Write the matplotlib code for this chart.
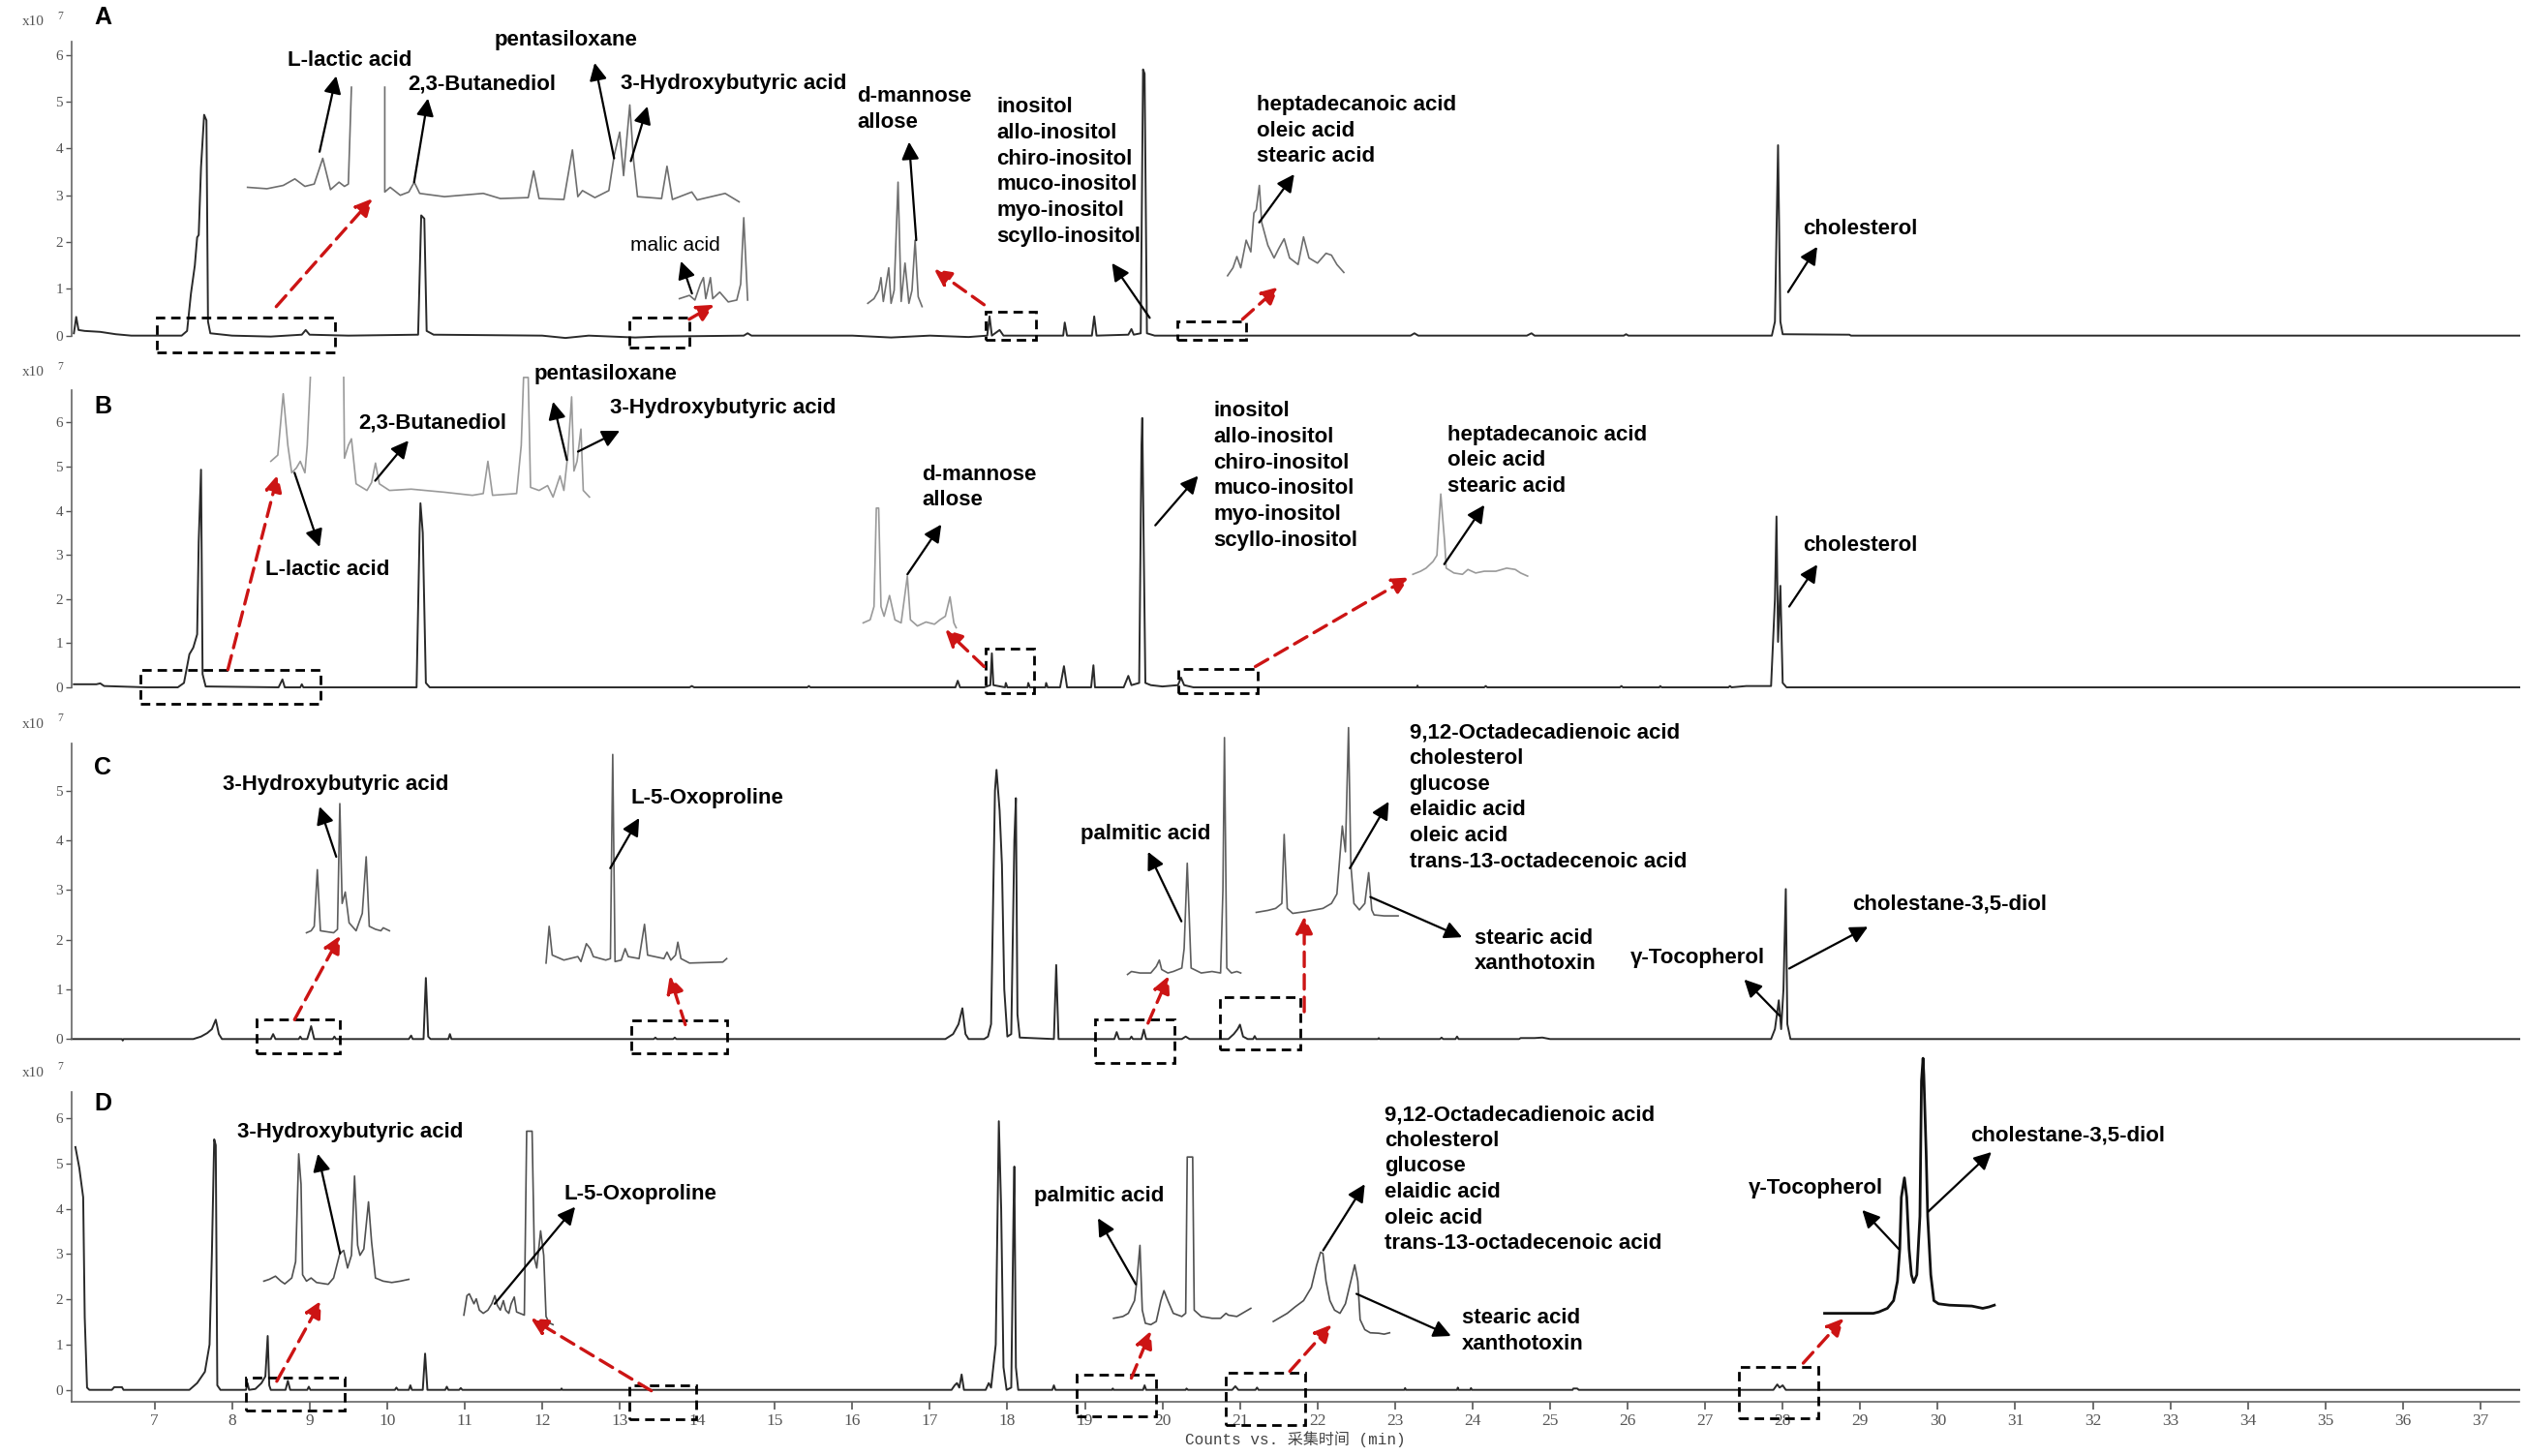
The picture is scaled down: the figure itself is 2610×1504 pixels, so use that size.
import matplotlib.pyplot as plt
from matplotlib.patches import Rectangle

plt.rcParams['font.family'] = ['Liberation Sans', 'DejaVu Sans']

# ── Main TIC traces: (retention time [min], counts [x10^7]) ──
A_main = [(5.96, 0.05), (5.99, 0.40), (6.02, 0.12), (6.10, 0.10), (6.30, 0.08), (6.50, 0.03), (6.70, 0.0),
          (7.35, 0.0), (7.42, 0.10), (7.47, 0.90), (7.52, 1.50), (7.55, 2.10), (7.57, 2.15), (7.60, 3.60),
          (7.64, 4.72), (7.67, 4.60), (7.69, 0.30), (7.72, 0.05), (8.00, 0.0), (8.50, -0.02), (8.90, 0.02),
          (8.95, 0.12), (9.00, 0.02), (9.50, 0.0), (10.40, 0.02), (10.44, 2.57), (10.48, 2.50), (10.51, 0.10),
          (10.60, 0.02), (12.00, 0.0), (12.30, -0.05), (12.60, 0.0), (13.20, -0.04), (13.50, -0.02),
          (14.60, 0.0), (14.65, 0.05), (14.70, 0.0), (16.00, 0.0), (16.50, -0.04), (17.00, 0.0),
          (17.50, -0.03), (17.74, 0.0), (17.77, 0.41), (17.80, 0.0), (17.90, 0.12), (17.95, 0.0),
          (18.72, 0.0), (18.74, 0.28), (18.77, 0.0), (19.09, 0.0), (19.12, 0.41), (19.15, 0.0),
          (19.56, 0.02), (19.60, 0.14), (19.63, 0.02), (19.72, 0.05), (19.75, 5.69), (19.77, 5.60),
          (19.80, 0.05), (19.90, 0.0), (23.20, 0.0), (23.25, 0.05), (23.30, 0.0), (24.70, 0.0),
          (24.76, 0.05), (24.80, 0.0), (25.95, 0.0), (25.98, 0.03), (26.01, 0.0), (27.86, 0.0),
          (27.90, 0.30), (27.94, 4.07), (27.97, 0.30), (28.00, 0.03), (28.86, 0.02), (28.88, 0.0), (37.50, 0.0)]

B_main = [(5.96, 0.07), (6.25, 0.07), (6.30, 0.09), (6.35, 0.03), (6.90, 0.0), (7.30, 0.0), (7.38, 0.10),
          (7.45, 0.75), (7.50, 0.90), (7.55, 1.20), (7.57, 3.30), (7.60, 4.93), (7.62, 0.30), (7.66, 0.02),
          (8.60, 0.0), (8.65, 0.18), (8.68, 0.0), (8.88, 0.0), (8.90, 0.07), (8.92, 0.0), (10.38, 0.0),
          (10.42, 3.60), (10.43, 4.17), (10.46, 3.50), (10.50, 0.10), (10.55, 0.0), (13.90, 0.0),
          (13.93, 0.03), (13.96, 0.0), (15.42, 0.0), (15.44, 0.03), (15.46, 0.0), (17.33, 0.0),
          (17.36, 0.15), (17.39, 0.0), (17.70, 0.0), (17.78, 0.05), (17.80, 0.77), (17.82, 0.05),
          (17.97, 0.0), (17.98, 0.10), (18.00, 0.0), (18.26, 0.0), (18.27, 0.10), (18.29, 0.0),
          (18.49, 0.0), (18.50, 0.10), (18.52, 0.0), (18.68, 0.0), (18.73, 0.48), (18.77, 0.0),
          (19.08, 0.0), (19.11, 0.50), (19.13, 0.0), (19.50, 0.0), (19.56, 0.26), (19.60, 0.05),
          (19.70, 0.10), (19.73, 5.50), (19.74, 6.10), (19.76, 3.00), (19.78, 0.10), (19.85, 0.05),
          (20.00, 0.02), (20.20, 0.05), (20.24, 0.22), (20.28, 0.05), (20.40, 0.0), (23.28, 0.0),
          (23.29, 0.04), (23.30, 0.0), (24.15, 0.0), (24.17, 0.03), (24.19, 0.0), (25.90, 0.0),
          (25.92, 0.03), (25.94, 0.0), (26.41, 0.0), (26.42, 0.03), (26.44, 0.0), (27.30, 0.0),
          (27.32, 0.03), (27.34, 0.0), (27.53, 0.03), (27.85, 0.03), (27.90, 2.00), (27.92, 3.87),
          (27.94, 1.03), (27.97, 2.30), (28.00, 0.10), (28.05, 0.0), (37.50, 0.0)]

C_main = [(5.93, 0.0), (6.58, 0.0), (6.59, -0.03), (6.60, 0.0), (7.50, 0.0), (7.60, 0.05), (7.68, 0.12),
          (7.74, 0.20), (7.79, 0.39), (7.83, 0.10), (7.87, 0.0), (8.50, 0.0), (8.53, 0.10), (8.56, 0.0),
          (8.86, 0.0), (8.88, 0.05), (8.90, 0.0), (8.97, 0.0), (9.02, 0.26), (9.06, 0.0), (9.30, 0.0),
          (9.32, 0.05), (9.34, 0.0), (10.28, 0.0), (10.31, 0.07), (10.33, 0.0), (10.47, 0.0),
          (10.50, 1.23), (10.53, 0.05), (10.56, 0.0), (10.79, 0.0), (10.81, 0.10), (10.83, 0.0),
          (13.44, 0.0), (13.46, 0.03), (13.48, 0.0), (13.69, 0.0), (13.71, 0.03), (13.73, 0.0),
          (17.20, 0.0), (17.30, 0.10), (17.37, 0.30), (17.42, 0.62), (17.46, 0.10), (17.50, 0.0),
          (17.70, 0.0), (17.75, 0.05), (17.79, 0.30), (17.84, 5.00), (17.86, 5.42), (17.90, 4.60),
          (17.93, 3.51), (17.96, 1.00), (18.00, 0.05), (18.05, 0.10), (18.09, 4.00), (18.11, 4.85),
          (18.13, 0.50), (18.16, 0.03), (18.60, 0.0), (18.63, 1.49), (18.66, 0.0), (19.38, 0.0),
          (19.41, 0.14), (19.44, 0.0), (19.58, 0.0), (19.60, 0.05), (19.62, 0.0), (19.73, 0.0),
          (19.76, 0.19), (19.79, 0.0), (20.25, 0.0), (20.30, 0.05), (20.35, 0.0), (20.85, 0.0),
          (20.92, 0.10), (20.97, 0.20), (21.00, 0.29), (21.04, 0.05), (21.10, 0.0), (21.17, 0.0),
          (21.19, 0.06), (21.21, 0.0), (22.78, 0.0), (22.79, 0.02), (22.80, 0.0), (23.58, 0.0),
          (23.60, 0.03), (23.62, 0.0), (23.78, 0.0), (23.80, 0.05), (23.82, 0.0), (24.60, 0.0),
          (24.62, 0.02), (24.80, 0.02), (24.90, 0.03), (25.00, 0.0), (27.85, 0.0), (27.90, 0.20),
          (27.95, 0.78), (27.98, 0.20), (28.01, 1.00), (28.04, 3.02), (28.06, 0.30), (28.10, 0.0), (37.50, 0.0)]

D_main = [(5.98, 5.36), (6.03, 4.90), (6.08, 4.25), (6.10, 1.60), (6.13, 0.05), (6.16, 0.0), (6.45, 0.0),
          (6.48, 0.06), (6.58, 0.06), (6.60, 0.0), (7.45, 0.0), (7.55, 0.15), (7.65, 0.40), (7.71, 1.00),
          (7.74, 3.00), (7.77, 5.53), (7.79, 5.40), (7.81, 0.10), (7.85, 0.0), (8.18, 0.0), (8.20, 0.15),
          (8.22, 0.0), (8.30, 0.02), (8.38, 0.15), (8.43, 0.30), (8.46, 1.19), (8.48, 0.10), (8.50, 0.0),
          (8.69, 0.0), (8.72, 0.20), (8.75, 0.0), (8.97, 0.0), (8.99, 0.07), (9.01, 0.0), (10.10, 0.0),
          (10.12, 0.05), (10.14, 0.0), (10.28, 0.0), (10.30, 0.10), (10.32, 0.0), (10.46, 0.0),
          (10.49, 0.80), (10.52, 0.0), (10.75, 0.0), (10.77, 0.07), (10.79, 0.0), (10.93, 0.0),
          (10.95, 0.04), (10.97, 0.0), (12.24, 0.0), (12.25, 0.03), (12.26, 0.0), (17.28, 0.0),
          (17.32, 0.10), (17.35, 0.15), (17.38, 0.05), (17.41, 0.34), (17.44, 0.0), (17.72, 0.0),
          (17.76, 0.15), (17.79, 0.05), (17.85, 1.00), (17.89, 5.93), (17.92, 4.00), (17.95, 0.50),
          (17.99, 0.0), (18.05, 0.05), (18.08, 4.00), (18.09, 4.93), (18.11, 0.50), (18.14, 0.0),
          (18.58, 0.0), (18.60, 0.10), (18.62, 0.0), (19.35, 0.0), (19.36, 0.03), (19.37, 0.0),
          (19.75, 0.0), (19.77, 0.10), (19.79, 0.0), (20.30, 0.0), (20.31, 0.03), (20.33, 0.0),
          (20.90, 0.0), (20.94, 0.08), (20.98, 0.0), (21.20, 0.0), (21.22, 0.05), (21.24, 0.0),
          (23.12, 0.0), (23.13, 0.04), (23.14, 0.0), (23.80, 0.0), (23.81, 0.05), (23.82, 0.0),
          (23.97, 0.0), (23.98, 0.04), (23.99, 0.0), (25.29, 0.0), (25.30, 0.03), (25.35, 0.03),
          (25.37, 0.0), (27.88, 0.0), (27.93, 0.12), (27.96, 0.05), (28.00, 0.10), (28.04, 0.0), (37.50, 0.0)]

# ── Zoomed insets (drawn in the panel's own coordinates) ──
A_in_left = [(8.20, 3.17), (8.45, 3.14), (8.66, 3.21), (8.81, 3.35), (8.94, 3.19), (9.06, 3.24), (9.17, 3.79),
             (9.27, 3.12), (9.38, 3.28), (9.45, 3.19), (9.50, 3.24), (9.54, 5.31)]
A_in_right = [(9.97, 5.31), (9.97, 3.07), (10.04, 3.17), (10.17, 3.00), (10.28, 3.07), (10.35, 3.28),
              (10.42, 3.04), (10.74, 2.97), (11.24, 3.04), (11.46, 2.93), (11.82, 2.95), (11.89, 3.52),
              (11.96, 2.93), (12.28, 2.91), (12.39, 3.97), (12.46, 2.97), (12.52, 3.10), (12.68, 2.95),
              (12.86, 3.10), (12.93, 3.86), (13.00, 4.35), (13.05, 3.42), (13.13, 4.93), (13.18, 3.73),
              (13.23, 2.97), (13.54, 2.93), (13.61, 3.62), (13.68, 2.91), (13.93, 3.07), (14.00, 2.90),
              (14.36, 3.04), (14.54, 2.86)]
A_in_malic = [(13.77, 0.79), (13.90, 0.86), (13.97, 0.76), (14.04, 1.10), (14.08, 1.24), (14.11, 0.79),
              (14.17, 1.24), (14.20, 0.79), (14.29, 0.93), (14.40, 0.72), (14.51, 0.76), (14.56, 1.10),
              (14.60, 2.52), (14.65, 0.76)]
A_in_mannose = [(16.20, 0.69), (16.28, 0.79), (16.34, 0.97), (16.37, 1.24), (16.40, 0.73), (16.47, 1.45),
                (16.50, 0.69), (16.54, 0.97), (16.59, 3.28), (16.63, 0.73), (16.68, 1.55), (16.73, 0.69),
                (16.77, 0.97), (16.81, 2.04), (16.85, 0.83), (16.90, 0.62)]
A_in_fatty = [(20.84, 1.28), (20.91, 1.45), (20.96, 1.69), (21.01, 1.45), (21.08, 2.04), (21.14, 1.79),
              (21.18, 2.62), (21.21, 2.69), (21.25, 3.21), (21.28, 2.42), (21.36, 1.93), (21.44, 1.66),
              (21.50, 1.86), (21.57, 2.07), (21.64, 1.66), (21.75, 1.52), (21.82, 2.11), (21.89, 1.66),
              (22.00, 1.55), (22.11, 1.76), (22.18, 1.72), (22.25, 1.52), (22.34, 1.35)]

B_in_left = [(8.50, 5.12), (8.59, 5.26), (8.66, 6.65), (8.72, 5.48), (8.77, 4.86), (8.83, 4.97),
             (8.88, 5.12), (8.94, 4.86), (8.97, 5.48), (9.01, 7.02)]
B_in_right = [(9.44, 7.02), (9.45, 5.19), (9.50, 5.48), (9.54, 5.63), (9.60, 4.61), (9.74, 4.46),
              (9.80, 4.64), (9.85, 5.08), (9.90, 4.61), (10.03, 4.46), (10.31, 4.49), (10.74, 4.42),
              (11.10, 4.35), (11.24, 4.39), (11.30, 5.12), (11.36, 4.35), (11.67, 4.39), (11.73, 5.48),
              (11.76, 7.02), (11.82, 7.02), (11.85, 4.53), (11.96, 4.46), (12.07, 4.57), (12.14, 4.31),
              (12.23, 4.79), (12.28, 4.46), (12.33, 5.26), (12.38, 6.58), (12.41, 4.90), (12.45, 5.12),
              (12.50, 5.85), (12.53, 4.46), (12.61, 4.31)]
B_in_mannose = [(16.14, 1.46), (16.23, 1.53), (16.28, 1.83), (16.31, 4.06), (16.34, 4.06), (16.37, 1.83),
                (16.41, 1.61), (16.48, 2.08), (16.55, 1.53), (16.63, 1.46), (16.71, 2.52), (16.75, 1.53),
                (16.84, 1.39), (16.95, 1.48), (17.06, 1.43), (17.13, 1.53), (17.20, 1.61), (17.26, 2.05),
                (17.31, 1.46), (17.34, 1.35)]
B_in_fatty = [(23.23, 2.56), (23.33, 2.63), (23.40, 2.70), (23.49, 2.85), (23.54, 2.99), (23.59, 4.38),
              (23.64, 3.29), (23.66, 2.70), (23.76, 2.59), (23.87, 2.56), (23.94, 2.67), (24.04, 2.59),
              (24.15, 2.63), (24.30, 2.63), (24.44, 2.70), (24.55, 2.67), (24.62, 2.59), (24.71, 2.52)]

C_in_3hb = [(8.96, 2.14), (9.02, 2.18), (9.06, 2.27), (9.10, 3.41), (9.14, 2.18), (9.31, 2.14), (9.36, 2.21),
            (9.39, 4.74), (9.42, 2.73), (9.46, 2.96), (9.51, 2.34), (9.60, 2.18), (9.68, 2.53), (9.73, 3.67),
            (9.77, 2.27), (9.85, 2.21), (9.92, 2.18), (9.95, 2.24), (10.03, 2.18)]
C_in_oxo = [(12.05, 1.53), (12.09, 2.27), (12.13, 1.69), (12.28, 1.59), (12.46, 1.66), (12.50, 1.56),
            (12.57, 1.92), (12.62, 1.82), (12.66, 1.66), (12.82, 1.59), (12.88, 1.62), (12.91, 5.73),
            (12.94, 1.56), (13.02, 1.59), (13.07, 1.82), (13.11, 1.66), (13.25, 1.62), (13.32, 2.31),
            (13.36, 1.69), (13.57, 1.62), (13.61, 1.75), (13.66, 1.59), (13.72, 1.69), (13.75, 1.95),
            (13.79, 1.62), (13.90, 1.53), (14.33, 1.55), (14.38, 1.62)]
C_in_palm = [(19.55, 1.30), (19.60, 1.36), (19.71, 1.33), (19.85, 1.33), (19.92, 1.46), (19.96, 1.59),
             (19.99, 1.40), (20.07, 1.33), (20.14, 1.36), (20.25, 1.43), (20.28, 1.82), (20.32, 3.54),
             (20.37, 1.43), (20.50, 1.33), (20.64, 1.36), (20.75, 1.33), (20.78, 2.99), (20.80, 6.07),
             (20.83, 1.43), (20.89, 1.33), (20.96, 1.36), (21.01, 1.33)]
C_in_fatty = [(21.21, 2.55), (21.36, 2.59), (21.46, 2.63), (21.54, 2.73), (21.57, 4.12), (21.61, 2.63),
              (21.68, 2.53), (21.86, 2.57), (22.07, 2.63), (22.18, 2.73), (22.25, 2.92), (22.32, 4.29),
              (22.36, 3.77), (22.40, 6.27), (22.43, 3.51), (22.47, 2.73), (22.54, 2.60), (22.61, 2.73),
              (22.66, 3.35), (22.70, 2.60), (22.73, 2.50), (22.86, 2.48), (23.04, 2.48)]

D_in_3hb = [(8.41, 2.40), (8.48, 2.44), (8.56, 2.51), (8.63, 2.40), (8.68, 2.34), (8.77, 2.47), (8.82, 2.83),
            (8.86, 5.21), (8.89, 4.54), (8.91, 2.54), (8.96, 2.40), (9.02, 2.47), (9.09, 2.37), (9.24, 2.33),
            (9.31, 2.47), (9.39, 3.01), (9.44, 3.08), (9.49, 2.69), (9.54, 2.97), (9.58, 4.72), (9.62, 3.19),
            (9.65, 2.97), (9.70, 3.11), (9.76, 4.15), (9.80, 3.26), (9.85, 2.47), (9.95, 2.40),
            (10.06, 2.37), (10.17, 2.40), (10.28, 2.44)]
D_in_oxo = [(10.99, 1.65), (11.03, 2.08), (11.06, 2.12), (11.12, 1.90), (11.15, 2.01), (11.19, 1.76),
            (11.24, 1.69), (11.30, 1.76), (11.35, 1.90), (11.39, 2.08), (11.42, 1.87), (11.46, 1.76),
            (11.50, 1.97), (11.53, 1.76), (11.57, 1.69), (11.60, 1.90), (11.64, 2.05), (11.67, 1.72),
            (11.77, 1.65), (11.80, 5.71), (11.87, 5.71), (11.90, 2.90), (11.93, 2.69), (11.98, 3.51),
            (12.02, 2.97), (12.05, 1.62), (12.09, 1.48), (12.14, 1.44)]
D_in_palm = [(19.37, 1.58), (19.49, 1.62), (19.56, 1.69), (19.64, 1.97), (19.67, 2.40), (19.71, 3.19),
             (19.74, 1.76), (19.78, 1.47), (19.85, 1.44), (19.92, 1.51), (19.98, 1.97), (20.02, 2.19),
             (20.07, 1.97), (20.14, 1.69), (20.25, 1.62), (20.30, 1.69), (20.32, 5.14), (20.39, 5.14),
             (20.41, 1.76), (20.50, 1.62), (20.64, 1.58), (20.75, 1.58), (20.82, 1.69), (20.85, 1.65),
             (20.96, 1.62), (21.03, 1.69), (21.14, 1.80)]
D_in_fatty = [(21.43, 1.51), (21.50, 1.58), (21.61, 1.69), (21.71, 1.83), (21.82, 1.97), (21.92, 2.26),
              (21.99, 2.76), (22.04, 3.04), (22.07, 3.01), (22.11, 2.40), (22.16, 1.97), (22.22, 1.76),
              (22.29, 1.69), (22.36, 1.90), (22.43, 2.40), (22.48, 2.76), (22.52, 2.40), (22.55, 1.55),
              (22.61, 1.33), (22.68, 1.26), (22.79, 1.25), (22.86, 1.23), (22.93, 1.26)]
D_in_toco = [(28.54, 1.69), (29.17, 1.69), (29.24, 1.72), (29.35, 1.80), (29.43, 1.97), (29.48, 2.40),
             (29.51, 3.11), (29.53, 4.25), (29.57, 4.68), (29.60, 4.25), (29.63, 3.11), (29.66, 2.54),
             (29.69, 2.37), (29.73, 2.54), (29.77, 3.83), (29.79, 6.82), (29.81, 7.32), (29.82, 6.96),
             (29.85, 5.25), (29.87, 3.83), (29.91, 2.54), (29.95, 1.97), (30.01, 1.90), (30.15, 1.87),
             (30.44, 1.85), (30.58, 1.80), (30.66, 1.83), (30.73, 1.87)]

# ── Compound names ──
inositols = ['inositol', 'allo-inositol', 'chiro-inositol', 'muco-inositol', 'myo-inositol', 'scyllo-inositol']
sugars = ['d-mannose', 'allose']
fatty_AB = ['heptadecanoic acid', 'oleic acid', 'stearic acid']
fatty_CD = ['9,12-Octadecadienoic acid', 'cholesterol', 'glucose', 'elaidic acid', 'oleic acid',
            'trans-13-octadecenoic acid']
stearic_x = ['stearic acid', 'xanthotoxin']
x_ticks = list(range(7, 38))

# ── Figure layout ──
W, H = 2610, 1504
fig = plt.figure(figsize=(W / 100, H / 100), dpi=100)
x_left, x_right = 73.5 / W, 2602 / W
# (top px, bottom px, ylim, top tick)
panels = [(43, 375, (-0.586, 6.284), 6),
          (403, 735, (-0.548, 6.732), 6),
          (768, 1105, (-0.618, 5.951), 5),
          (1128, 1448, (-0.263, 6.575), 6)]
axes = []
for i, (top, bot, ylim, ymax) in enumerate(panels):
    ax = fig.add_axes([x_left, 1 - bot / H, x_right - x_left, (bot - top) / H])
    ax.set_xlim(5.925, 37.5)
    ax.set_ylim(*ylim)
    ax.patch.set_alpha(0)
    for s in ['top', 'right']:
        ax.spines[s].set_visible(False)
    ax.spines['left'].set_color('#666666')
    ax.spines['left'].set_linewidth(1.2)
    ax.set_yticks(range(0, ymax + 1))
    ax.tick_params(axis='y', length=4, width=1, colors='#555555', labelsize=11, pad=2)
    for lab in ax.get_yticklabels():
        lab.set_family('Liberation Serif')
    if i < 3:
        ax.spines['bottom'].set_visible(False)
        ax.spines['left'].set_bounds(0, ylim[1])
        ax.set_xticks([])
    else:
        ax.spines['bottom'].set_color('#666666')
        ax.spines['bottom'].set_linewidth(1.2)
        ax.set_xticks(x_ticks)
        ax.tick_params(axis='x', length=6, width=1.2, colors='#555555', labelsize=12.5, pad=3)
        for lab in ax.get_xticklabels():
            lab.set_family('Liberation Serif')
    # "x10 7" unit label
    ypix = [23, 385, 748, 1108][i]
    fig.text(23 / W, 1 - ypix / H, 'x10', family='Liberation Serif', fontsize=11,
             color='#555555', va='center', ha='left')
    fig.text(59 / W, 1 - (ypix - 6) / H, '7', family='Liberation Serif', fontsize=8.5,
             color='#555555', va='center', ha='left')
    ax.text(6.333, [6.80, 6.36, 5.47, 6.32][i], 'ABCD'[i], fontsize=18, fontweight='bold',
            ha='center', va='center', clip_on=False)
    axes.append(ax)
axA, axB, axC, axD = axes

fig.text(1338 / W, 1 - 1487 / H, 'Counts vs. 采集时间 (min)', family=['Liberation Mono', 'Noto Sans CJK SC'],
         fontsize=11.5, color='#444444', ha='center', va='center')


def trace(ax, pts, color='#2a2a2a', lw=1.4):
    t, v = zip(*pts)
    ax.plot(t, v, color=color, lw=lw, clip_on=False, zorder=2)


def arrow(ax, tail, head):
    ax.annotate('', xy=head, xytext=tail, annotation_clip=False,
                arrowprops=dict(arrowstyle='-|>', color='black', lw=1.6, mutation_scale=27,
                                shrinkA=0, shrinkB=0))


def red_arrow(ax, tail, head):
    ax.annotate('', xy=head, xytext=tail, annotation_clip=False,
                arrowprops=dict(arrowstyle='-|>', color='#cc1414', lw=2.4, mutation_scale=26,
                                linestyle=(0, (4.5, 2.5)), shrinkA=0, shrinkB=0))


def box(ax, t0, t1, v0, v1):
    ax.add_patch(Rectangle((t0, v1), t1 - t0, v0 - v1, fill=False, ec='black', lw=2.0,
                           ls=(0, (3.5, 2.2)), clip_on=False, zorder=3))


def label(ax, t, v, lines, ha='left', size=16, weight='bold'):
    if isinstance(lines, str):
        lines = [lines]
    for k, line in enumerate(lines):
        ax.annotate(line, (t, v), xytext=(0, -k * 19.2), textcoords='offset points', ha=ha,
                    va='center', fontsize=size, fontweight=weight, annotation_clip=False)


# ══════════ Panel A ══════════
trace(axA, A_main)
for pts in [A_in_left, A_in_right, A_in_malic, A_in_mannose, A_in_fatty]:
    trace(axA, pts, color='#6e6e6e', lw=1.2)
box(axA, 7.036, 9.33, 0.38, -0.36)
box(axA, 13.129, 13.896, 0.38, -0.26)
box(axA, 17.721, 18.366, 0.52, -0.08)
box(axA, 20.194, 21.083, 0.30, -0.08)
red_arrow(axA, (8.57, 0.62), (9.81, 2.93))
red_arrow(axA, (13.896, 0.35), (14.219, 0.66))
red_arrow(axA, (17.70, 0.66), (17.055, 1.42))
red_arrow(axA, (21.033, 0.35), (21.499, 1.04))
arrow(axA, (9.129, 3.93), (9.344, 5.55))
arrow(axA, (10.348, 3.28), (10.527, 5.07))
arrow(axA, (12.928, 3.79), (12.677, 5.83))
arrow(axA, (13.143, 3.73), (13.358, 4.90))
arrow(axA, (13.932, 0.90), (13.789, 1.59))
arrow(axA, (16.825, 2.04), (16.732, 4.14))
arrow(axA, (19.836, 0.38), (19.349, 1.55))
arrow(axA, (21.248, 2.42), (21.70, 3.45))
arrow(axA, (28.07, 0.93), (28.446, 1.90))
label(axA, 9.523, 5.88, 'L-lactic acid', ha='center')
label(axA, 11.229, 5.37, '2,3-Butanediol', ha='center')
label(axA, 12.305, 6.31, 'pentasiloxane', ha='center')
label(axA, 14.469, 5.39, '3-Hydroxybutyric acid', ha='center')
label(axA, 13.717, 1.92, 'malic acid', ha='center', size=15, weight='normal')
label(axA, 16.065, 5.11, sugars)
label(axA, 17.858, 4.88, inositols)
label(axA, 21.213, 4.93, fatty_AB)
label(axA, 28.265, 2.28, 'cholesterol')

# ══════════ Panel B ══════════
trace(axB, B_main)
for pts in [B_in_left, B_in_right, B_in_mannose, B_in_fatty]:
    trace(axB, pts, color='#9a9a9a', lw=1.2)
box(axB, 6.821, 9.143, 0.39, -0.37)
box(axB, 17.721, 18.345, 0.88, -0.13)
box(axB, 20.209, 21.234, 0.42, -0.13)
red_arrow(axB, (7.946, 0.40), (8.591, 4.82))
red_arrow(axB, (17.70, 0.47), (17.198, 1.31))
red_arrow(axB, (21.198, 0.47), (23.184, 2.49))
arrow(axB, (8.806, 4.86), (9.129, 3.18))
arrow(axB, (9.846, 4.68), (10.276, 5.59))
arrow(axB, (12.319, 5.15), (12.14, 6.47))
arrow(axB, (12.462, 5.34), (13.0, 5.81))
arrow(axB, (16.711, 2.56), (17.148, 3.69))
arrow(axB, (19.908, 3.67), (20.46, 4.79))
arrow(axB, (23.635, 2.79), (24.152, 4.13))
arrow(axB, (28.084, 1.83), (28.446, 2.78))
label(axB, 12.821, 7.09, 'pentasiloxane', ha='center')
label(axB, 10.584, 5.98, '2,3-Butanediol', ha='center')
label(axB, 14.326, 6.32, '3-Hydroxybutyric acid', ha='center')
label(axB, 9.236, 2.67, 'L-lactic acid', ha='center')
label(axB, 16.897, 4.82, sugars)
label(axB, 20.66, 6.25, inositols)
label(axB, 23.671, 5.72, fatty_AB)
label(axB, 28.265, 3.22, 'cholesterol')

# ══════════ Panel C ══════════
trace(axC, C_main)
for pts in [C_in_3hb, C_in_oxo, C_in_palm, C_in_fatty]:
    trace(axC, pts, color='#5e5e5e', lw=1.2)
box(axC, 8.319, 9.394, 0.39, -0.29)
box(axC, 13.143, 14.383, 0.38, -0.29)
box(axC, 19.133, 20.152, 0.39, -0.49)
box(axC, 20.747, 21.772, 0.84, -0.20)
red_arrow(axC, (8.806, 0.39), (9.394, 2.08))
red_arrow(axC, (13.846, 0.29), (13.645, 1.27))
red_arrow(axC, (19.814, 0.32), (20.08, 1.27))
red_arrow(axC, (21.829, 0.55), (21.829, 2.47))
arrow(axC, (9.344, 3.67), (9.129, 4.68))
arrow(axC, (12.878, 3.44), (13.251, 4.45))
arrow(axC, (20.245, 2.37), (19.814, 3.77))
arrow(axC, (22.417, 3.44), (22.919, 4.78))
arrow(axC, (22.682, 2.86), (23.865, 2.05))
arrow(axC, (27.961, 0.47), (27.504, 1.20))
arrow(axC, (28.084, 1.42), (29.099, 2.26))
label(axC, 9.337, 5.12, '3-Hydroxybutyric acid', ha='center')
label(axC, 14.125, 4.84, 'L-5-Oxoproline', ha='center')
label(axC, 19.779, 4.12, 'palmitic acid', ha='center')
label(axC, 23.184, 6.17, fatty_CD)
label(axC, 24.022, 2.03, stearic_x)
label(axC, 27.772, 1.64, 'γ-Tocopherol', ha='right')
label(axC, 28.903, 2.72, 'cholestane-3,5-diol')

# ══════════ Panel D ══════════
trace(axD, D_main)
for pts in [D_in_3hb, D_in_oxo, D_in_palm, D_in_fatty]:
    trace(axD, pts, color='#505050', lw=1.2)
trace(axD, D_in_toco, color='#111111', lw=2.0)
box(axD, 8.176, 9.451, 0.28, -0.46)
box(axD, 13.129, 13.982, 0.11, -0.65)
box(axD, 18.897, 19.922, 0.34, -0.59)
box(axD, 20.818, 21.836, 0.37, -0.77)
box(axD, 27.432, 28.461, 0.50, -0.63)
red_arrow(axD, (8.577, 0.19), (9.15, 1.97))
red_arrow(axD, (13.408, -0.02), (11.853, 1.58))
red_arrow(axD, (19.599, 0.26), (19.85, 1.30))
red_arrow(axD, (21.642, 0.41), (22.18, 1.44))
red_arrow(axD, (28.265, 0.59), (28.787, 1.58))
arrow(axD, (9.394, 3.01), (9.107, 5.21))
arrow(axD, (11.387, 1.90), (12.426, 4.04))
arrow(axD, (19.657, 2.33), (19.169, 3.79))
arrow(axD, (22.073, 3.08), (22.61, 4.54))
arrow(axD, (22.503, 2.12), (23.722, 1.19))
arrow(axD, (29.497, 3.11), (29.026, 3.97))
arrow(axD, (29.874, 3.93), (30.693, 5.25))
label(axD, 9.53, 5.69, '3-Hydroxybutyric acid', ha='center')
label(axD, 13.265, 4.32, 'L-5-Oxoproline', ha='center')
label(axD, 19.177, 4.27, 'palmitic acid', ha='center')
label(axD, 22.861, 6.07, fatty_CD)
label(axD, 23.865, 1.58, stearic_x)
label(axD, 28.425, 4.45, 'γ-Tocopherol', ha='center')
label(axD, 31.679, 5.61, 'cholestane-3,5-diol', ha='center')

fig.savefig('out.png', dpi=100, facecolor='white')
